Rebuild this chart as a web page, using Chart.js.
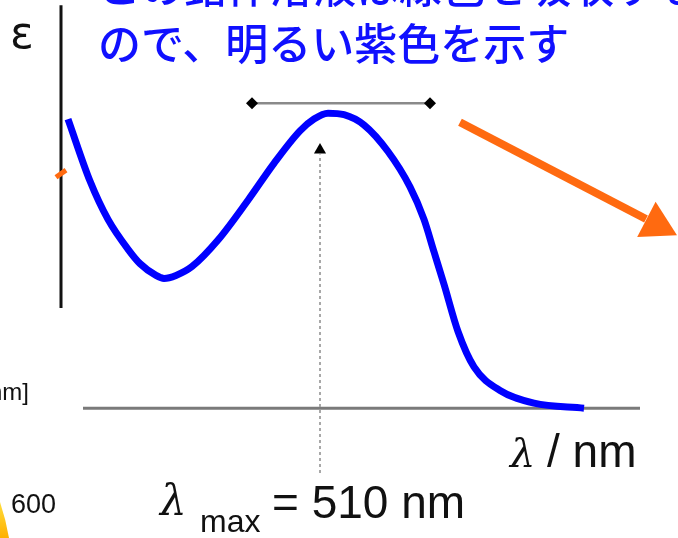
<!DOCTYPE html>
<html>
<head>
<meta charset="utf-8">
<script src="https://cdn.jsdelivr.net/npm/chart.js@4"></script>
<style>
  html, body { margin: 0; padding: 0; background: #fff; }
  #wrap { width: 678px; height: 538px; position: relative; }
</style>
</head>
<body>
<div id="wrap"><canvas id="spectrum"></canvas></div>
<script>
// absorption spectrum (wavelength in nm, absorbance normalised to the peak)
const wavelength = [384, 395, 404, 415, 420, 428, 432, 438, 446, 459, 474, 487, 500, 507, 514, 522, 532, 544, 555, 562, 567, 572, 579, 587, 600, 617, 642];
const absorbance = [0.98, 0.77, 0.64, 0.53, 0.49, 0.45, 0.44, 0.45, 0.48, 0.57, 0.705, 0.83, 0.94, 0.98, 1.0, 0.995, 0.96, 0.87, 0.75, 0.64, 0.53, 0.42, 0.26, 0.14, 0.06, 0.017, 0.0];

// peak marker and band width bar
const lambdaMax = 510;
const bandEdges = [476, 565];

// labels
const titleLines = ['この錯体溶液は緑色を吸収する', 'ので、明るい紫色を示す'];
const yLabel = 'ε';
const xUnit = '/ nm';
const cutUnit = '[nm]';
const cutTick = '600';

// axis ranges
const xRange = [381, 689];
const yRange = [-0.44, 1.37];

const pts = (xs, ys) => xs.map((x, i) => ({ x: x, y: ys[i] }));

const datasets = [
  {
    // spectrum
    data: pts(wavelength, absorbance),
    borderColor: '#0000ff',
    borderWidth: 7,
    pointRadius: 0,
    cubicInterpolationMode: 'monotone',
    borderCapStyle: 'butt',
  },
  {
    // band bar with diamond ends
    data: pts(bandEdges, [1.034, 1.034]),
    borderColor: '#8a8a8a',
    borderWidth: 2.5,
    pointStyle: 'rectRot',
    pointRadius: 6,
    pointBackgroundColor: '#000',
    pointBorderWidth: 0,
  },
  {
    // arrow head of the dotted lambda max line
    data: [{ x: lambdaMax, y: 0.875 }],
    showLine: false,
    pointStyle: 'triangle',
    pointRadius: 7,
    pointBackgroundColor: '#000',
    pointBorderWidth: 0,
  },
  {
    // dotted lambda max line
    data: pts([lambdaMax, lambdaMax], [-0.22, 0.86]),
    borderColor: '#a8a8a8',
    borderWidth: 2,
    borderDash: [3, 3],
    pointRadius: 0,
  },
  {
    // orange arrow head
    data: [{ x: 678.3, y: 0.622 }],
    showLine: false,
    pointStyle: 'triangle',
    pointRadius: 23,
    pointRotation: 117.5,
    pointBackgroundColor: '#ff6a10',
    pointBorderWidth: 0,
    clip: false,
  },
  {
    // orange arrow shaft
    data: pts([580, 673], [0.969, 0.641]),
    borderColor: '#ff6a10',
    borderWidth: 8,
    pointRadius: 0,
    clip: false,
  },
  {
    // small orange mark on the epsilon axis
    data: pts([378, 383], [0.783, 0.807]),
    borderColor: '#ff6a10',
    borderWidth: 5,
    pointRadius: 0,
    clip: false,
  },
  {
    // epsilon axis
    data: pts([380.5, 380.5], [0.34, 1.366]),
    borderColor: '#111',
    borderWidth: 3,
    pointRadius: 0,
    clip: false,
  },
  {
    // wavelength axis
    data: pts([391.5, 670], [0, 0]),
    borderColor: '#7a7a7a',
    borderWidth: 3,
    pointRadius: 0,
  },
];

const textPlugin = {
  id: 'slideText',
  beforeDraw(chart) {
    const c = chart.ctx;
    c.save();
    c.fillStyle = '#fff';
    c.fillRect(0, 0, chart.width, chart.height);
    c.restore();
  },
  afterDraw(chart) {
    const c = chart.ctx;
    const xs = chart.scales.x;
    c.save();
    c.textBaseline = 'alphabetic';

    // blue caption (first line is cut by the crop)
    c.fillStyle = '#1010ff';
    c.font = '500 43px "Noto Sans CJK JP"';
    c.textAlign = 'left';
    c.fillText(titleLines[0], 98, 3);
    c.fillText(titleLines[1], 98, 60);

    // epsilon
    c.fillStyle = '#111';
    c.font = '44px "DejaVu Sans"';
    c.fillText(yLabel, 10, 48);

    // cut axis unit and tick from the neighbouring chart
    c.font = '24px "Liberation Sans"';
    c.textAlign = 'right';
    c.fillText(cutUnit, 29, 400);
    c.textAlign = 'left';
    c.font = '27px "Liberation Sans"';
    c.fillText(cutTick, 11, 513);

    // lambda / nm
    c.font = 'italic 40px "DejaVu Serif"';
    c.fillText('λ', 510, 467);
    c.font = '46px "Liberation Sans"';
    c.fillText(xUnit, 547, 467);

    // lambda max = 510 nm
    const lx = xs.getPixelForValue(lambdaMax);
    c.font = 'italic 42px "DejaVu Serif"';
    c.fillText('λ', lx - 160, 515);
    c.font = '32px "Liberation Sans"';
    c.fillText('max', lx - 120, 532);
    c.font = '46px "Liberation Sans"';
    c.fillText('= ' + lambdaMax + ' nm', lx - 48, 518);

    // yellow corner from the neighbouring picture
    const g = c.createLinearGradient(0, 500, 0, 538);
    g.addColorStop(0, '#ffe040');
    g.addColorStop(1, '#ffb000');
    c.fillStyle = g;
    c.beginPath();
    c.moveTo(0, 502);
    c.quadraticCurveTo(6, 520, 9, 538);
    c.lineTo(0, 538);
    c.closePath();
    c.fill();
    c.restore();
  },
};

new Chart(document.getElementById('spectrum').getContext('2d'), {
  type: 'line',
  data: { datasets: datasets },
  options: {
    responsive: true,
    maintainAspectRatio: false,
    animation: false,
    layout: { autoPadding: false, padding: { left: 62, right: 0, top: 4, bottom: 0 } },
    plugins: { legend: { display: false }, tooltip: { enabled: false } },
    scales: {
      x: { type: 'linear', display: false, min: xRange[0], max: xRange[1] },
      y: { type: 'linear', display: false, min: yRange[0], max: yRange[1] },
    },
  },
  plugins: [textPlugin],
});
</script>
</body>
</html>
